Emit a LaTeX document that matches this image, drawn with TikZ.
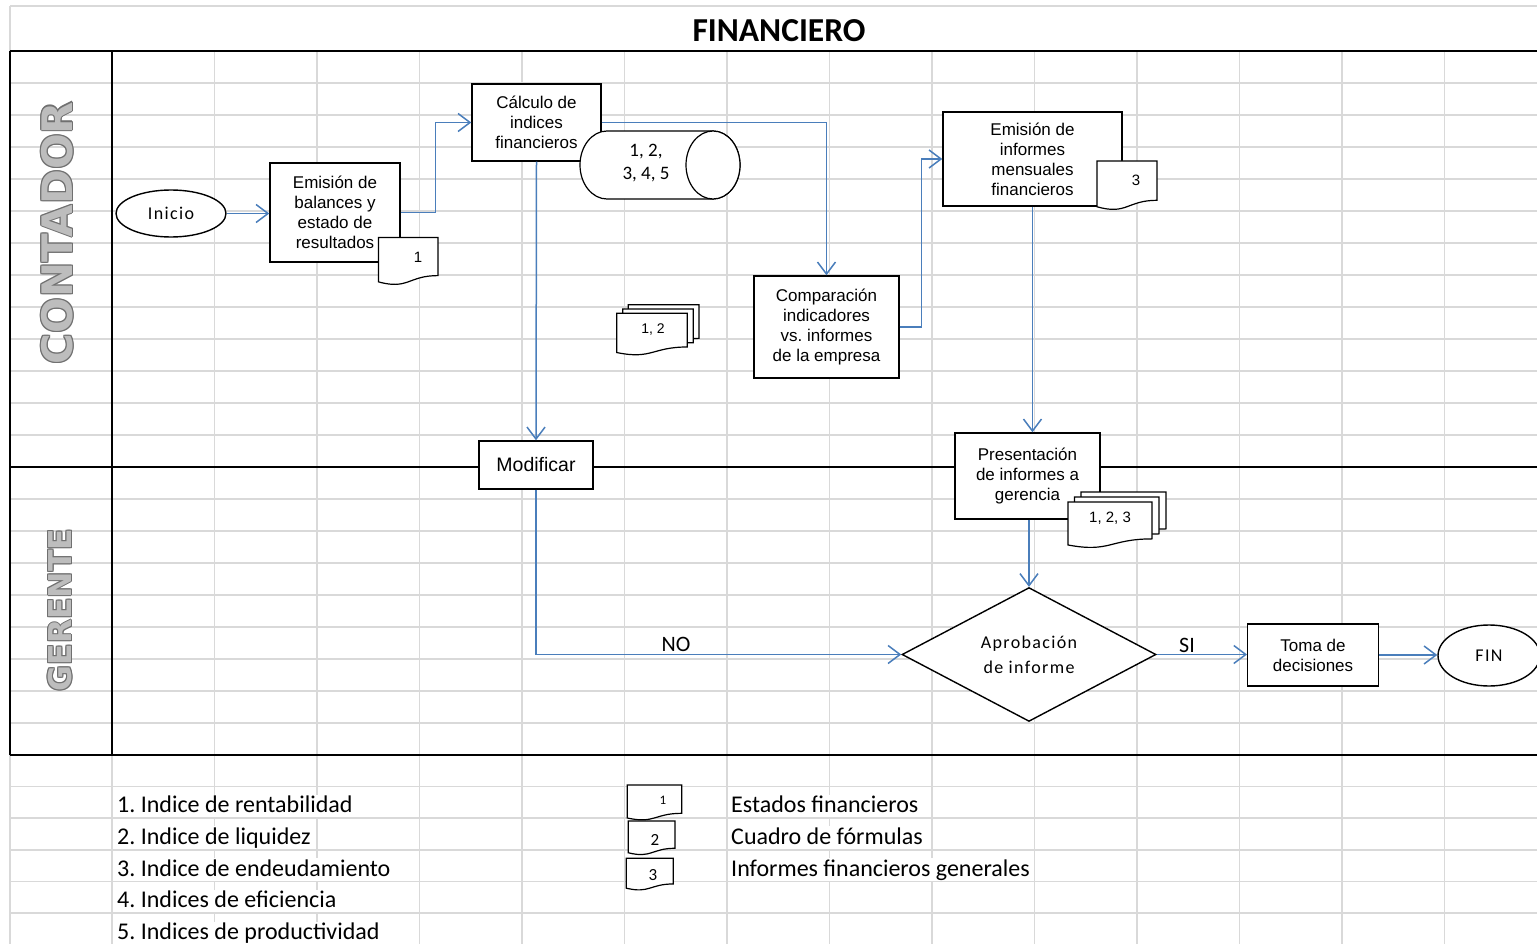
\documentclass[tikz,border=0pt]{standalone}
\usepackage{fontspec}
\setmainfont{Carlito}
\newfontfamily\arialf{Liberation Sans}
\newfontfamily\calsp[LetterSpace=7.5]{Carlito}
\newfontfamily\heavyf{DejaVu Sans}
\usetikzlibrary{arrows.meta,shapes.geometric,calc}
\frenchspacing

\definecolor{gridgray}{HTML}{D9D9D9}
\definecolor{flowblue}{HTML}{4A7EBB}
\definecolor{lanefill}{HTML}{BDBDBD}
\definecolor{laneedge}{HTML}{707070}

\tikzset{
  grid line/.style={draw=gridgray, line width=1.5pt},
  frame line/.style={draw=black, line width=2.3pt},
  box/.style={draw=black, line width=1.4pt, fill=white, rectangle, align=center,
    inner sep=0pt, font=\arialf\fontsize{17}{20}\selectfont},
  terminal/.style={draw=black, line width=1.4pt, fill=white, ellipse, inner sep=0pt,
    font=\calsp\fontsize{18}{22}\selectfont},
  decision/.style={draw=black, line width=1.4pt, fill=white, diamond, inner sep=0pt,
    align=center, font=\calsp\fontsize{18}{25}\selectfont},
  storetext/.style={inner sep=0pt, align=center, font=\fontsize{19}{23}\selectfont},
  docline/.style={draw=black, line width=1.2pt, fill=white},
  doclabel/.style={inner sep=0pt, font=\arialf\fontsize{15}{18}\selectfont},
  pagelabel/.style={inner sep=0pt, font=\arialf\fontsize{#1}{#1}\selectfont},
  flow/.style={draw=flowblue, line width=1.5pt,
    -{Straight Barb[length=12pt, width=18pt, line width=1.5pt]}},
  flowlabel/.style={inner sep=0pt, font=\fontsize{22}{26}\selectfont},
  legendtext/.style={anchor=base west, inner sep=0pt, fill=white,
    text height=18pt, text depth=4.5pt, font=\fontsize{24}{28}\selectfont},
  lanetext/.style={rotate=90, inner sep=0pt, font=\heavyf\bfseries\fontsize{#1}{#1}\selectfont},
}

% document symbol with a wavy bottom edge: left x, top y, width, height
\newcommand\docshape[4]{%
  \pgfmathsetmacro\docXr{#1+#3}%
  \pgfmathsetmacro\docXm{#1+0.5*#3}%
  \pgfmathsetmacro\docYr{#2+0.802*#4}%
  \pgfmathsetmacro\docYl{#2+0.934*#4}%
  \pgfmathsetmacro\docYc{#2+1.107*#4}%
  \draw[docline] (#1,#2) -- (\docXr,#2) -- (\docXr,\docYr)
    .. controls (\docXm,\docYr) and (\docXm,\docYc) .. (#1,\docYl) -- cycle;}

\begin{document}
\begin{tikzpicture}[x=1pt, y=-1pt]
\useasboundingbox (0,0) rectangle (1537,944);

% spreadsheet grid
\draw[grid line] (10,6) -- (1537,6);
\draw[grid line] (10,6) -- (10,944);
\draw[grid line] (112,755) -- (112,944);
\foreach \k in {1,...,13}
  \draw[grid line] ({112+102.5*\k},51) -- ({112+102.5*\k},944);
\foreach \k in {1,...,12,14,15,...,21}
  \draw[grid line] (10,{51+32*\k}) -- (1537,{51+32*\k});
\foreach \k in {1,...,5}
  \draw[grid line] (10,{755+31.6*\k}) -- (1537,{755+31.6*\k});

% swimlane frame
\draw[frame line] (10,51) -- (1537,51);
\draw[frame line] (10,467) -- (1537,467);
\draw[frame line] (10,755) -- (1537,755);
\draw[frame line] (10,51) -- (10,755);
\draw[frame line] (112,51) -- (112,755);

% title
\node[inner sep=0pt, font=\bfseries\fontsize{33.5}{36}\selectfont] (title) at (779,30.5) {FINANCIERO};

% lane names, outlined grey lettering
\foreach \dx/\dy in {-0.8/-0.8,-0.8/0.8,0.8/-0.8,0.8/0.8,0/-1.1,0/1.1,-1.1/0,1.1/0} {
  \node[lanetext=42, text=laneedge] at ({57+\dx},{233+\dy}) {CONTADOR};
  \node[lanetext=31.5, text=laneedge] at ({60+\dx},{610+\dy}) {GERENTE};
}
\node[lanetext=42, text=lanefill] (lanec) at (57,233) {CONTADOR};
\node[lanetext=31.5, text=lanefill] (laneg) at (60,610) {GERENTE};

% process steps
\node[terminal, minimum width=110pt, minimum height=47pt] (ini) at (171,213.5) {Inicio};
\node[box, minimum width=130pt, minimum height=99pt] (emis) at (335,212.5)
  {Emisión de\\balances y\\estado de\\resultados};
\node[box, minimum width=129pt, minimum height=77pt] (calc) at (536.5,122.5)
  {Cálculo de\\indices\\financieros};
\node[box, minimum width=145pt, minimum height=102pt] (comp) at (826.5,327)
  {Comparación\\indicadores\\vs. informes\\de la empresa};
\node[box, minimum width=179pt, minimum height=94pt] (infm) at (1032.5,159)
  {Emisión de\\informes\\mensuales\\financieros};
\node[box, minimum width=114pt, minimum height=48pt, font=\arialf\fontsize{19.5}{22}\selectfont]
  (modi) at (536,465) {Modificar};
\node[box, minimum width=145pt, minimum height=86pt] (pres) at (1027.5,476)
  {Presentación\\de informes a\\gerencia};
\node[decision, minimum width=254pt, minimum height=125pt] (apr) at (1029,654.5)
  {Aprobación\\de informe};
\node[box, minimum width=130.5pt, minimum height=62pt] (toma) at (1313,655)
  {Toma de\\decisiones};
\node[terminal, minimum width=102pt, minimum height=61pt] (fin) at (1489,655.5) {FIN};

% stored indices (horizontal cylinder)
\draw[docline] (607,131) -- (713,131)
  .. controls (727.9,131) and (740,146.2) .. (740,165)
  .. controls (740,183.8) and (727.9,199) .. (713,199)
  -- (607,199)
  .. controls (592.1,199) and (580,183.8) .. (580,165)
  .. controls (580,146.2) and (592.1,131) .. (607,131) -- cycle;
\draw[docline] (713,165) ellipse [x radius=27, y radius=34];
\node[storetext] (store) at (646,163) {1, 2,\\3, 4, 5};

% documents attached to the steps
\docshape{378.5}{237.5}{59.5}{47.5}
\node[doclabel] (doca) at (418,257) {1};
\docshape{1097}{161}{60}{49}
\node[doclabel] (docb) at (1136,180) {3};

% multiple documents
\docshape{628.3}{304.7}{70.7}{42}
\docshape{622.7}{309}{70.6}{42}
\docshape{616.7}{313.3}{70.6}{42}
\node[pagelabel=14] (pagesa) at (653,330) {1, 2};
\docshape{1081}{492}{85}{46}
\docshape{1074.5}{497}{84.5}{46}
\docshape{1068}{502}{84}{46}
\node[pagelabel=15] (pagesb) at (1110,518) {1, 2, 3};

% flow connectors
\draw[flow] (ini.east) -- (ini.east -| emis.west);
\draw[flow] (emis.east) -- ++(35,0) |- (calc.west);
\draw[flow] (calc.east) -| (comp.north);
\draw[flow] (comp.east) -- ++(22,0) |- (infm.west);
\draw[flow] (calc.south) -- (modi.north);
\draw[flow] (infm.south) -- (infm.south |- pres.north);
\draw[flow] (modi.south) |- (apr.west);
\draw[flow] (apr.north |- pres.south) -- (apr.north);
\draw[flow] (apr.east) -- (apr.east -| toma.west);
\draw[flow] (toma.east) -- (toma.east -| fin.west);
\node[flowlabel] (no) at (676,644) {NO};
\node[flowlabel] (si) at (1187,645) {SI};

% legend
\node[legendtext] (l1) at (117,812.5) {1. Indice de rentabilidad};
\node[legendtext] (l2) at (117,844.3) {2. Indice de liquidez};
\node[legendtext] (l3) at (117,876.1) {3. Indice de endeudamiento};
\node[legendtext] (l4) at (117,907.9) {4. Indices de eficiencia};
\node[legendtext] (l5) at (117,939.7) {5. Indices de productividad};

\docshape{627.3}{785}{54.4}{35.3}
\node[inner sep=0pt, font=\fontsize{13}{15}\selectfont] (ka) at (663,800) {1};
\docshape{628.3}{821}{46.7}{34}
\node[inner sep=0pt, font=\fontsize{17}{19}\selectfont] (kb) at (655,840) {2};
\docshape{626.3}{858.3}{47}{32}
\node[inner sep=0pt, font=\fontsize{17}{19}\selectfont] (kc) at (653,875) {3};

\node[legendtext] (t1) at (731,812.5) {Estados financieros};
\node[legendtext] (t2) at (731,844.3) {Cuadro de fórmulas};
\node[legendtext] (t3) at (731,876.1) {Informes financieros generales};
\end{tikzpicture}
\end{document}
